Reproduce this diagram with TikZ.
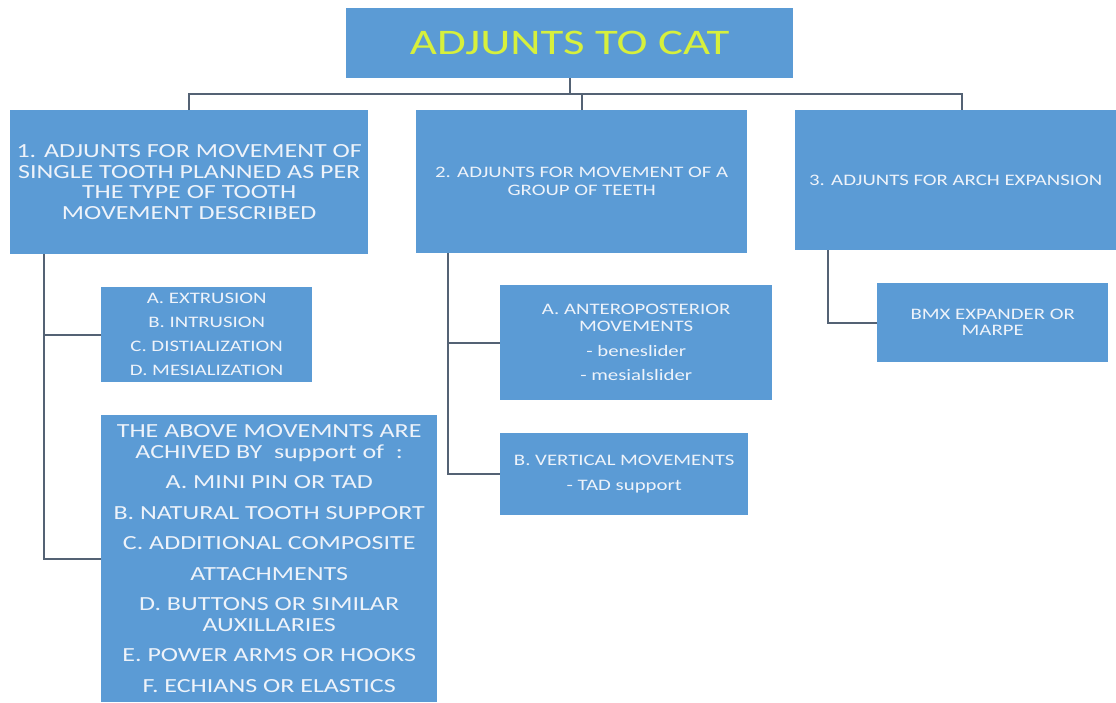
\documentclass[tikz,border=0pt]{standalone}
\usepackage{fontspec}
\setmainfont[FakeStretch=1.3]{Carlito}
\usetikzlibrary{calc}
\definecolor{boxblue}{RGB}{91,155,213}
\definecolor{titleyel}{RGB}{215,240,60}
\definecolor{txtcol}{RGB}{238,243,250}
\definecolor{linkcol}{RGB}{84,98,116}
\begin{document}
\begin{tikzpicture}[x=1pt,y=-1pt,
  blk/.style={fill=boxblue, draw=none, inner sep=0pt, text=txtcol, align=center, anchor=north west},
  link/.style={draw=linkcol, line width=1.6pt}]
\useasboundingbox (0,0) rectangle (1116,702);
\fill[white] (0,0) rectangle (1116,702);

\node[blk, minimum width=447pt, minimum height=70pt, text=titleyel,
      font=\fontsize{36}{40}\selectfont] (top) at (346,8) {ADJUNTS TO CAT};

\node[blk, minimum width=358pt, minimum height=144pt,
      font=\fontsize{20}{20.5}\selectfont] (b1) at (10,110)
  {1. ADJUNTS FOR MOVEMENT OF\\ SINGLE TOOTH PLANNED AS PER\\ THE TYPE OF TOOTH\\ MOVEMENT DESCRIBED};

\node[blk, minimum width=331pt, minimum height=143pt,
      font=\fontsize{16}{18}\selectfont] (b2) at (416,110)
  {2. ADJUNTS FOR MOVEMENT OF A\\ GROUP OF TEETH};

\node[blk, minimum width=321pt, minimum height=140pt,
      font=\fontsize{16}{18}\selectfont] (b3) at (795,110)
  {3. ADJUNTS FOR ARCH EXPANSION};

\node[blk, minimum width=211pt, minimum height=95pt,
      font=\fontsize{16}{24}\selectfont] (list) at (101,287)
  {A. EXTRUSION\\ B. INTRUSION\\ C. DISTIALIZATION\\ D. MESIALIZATION};

\node[blk, minimum width=336pt, minimum height=287pt,
      font=\fontsize{20}{20.5}\selectfont] (big) at (101,415)
  {THE ABOVE MOVEMNTS ARE\\ ACHIVED BY~ support of~ :\\[10pt]
   A. MINI PIN OR TAD\\[10pt] B. NATURAL TOOTH SUPPORT\\[10pt]
   C. ADDITIONAL COMPOSITE\\[10pt] ATTACHMENTS\\[10pt]
   D. BUTTONS OR SIMILAR\\ AUXILLARIES\\[10pt]
   E. POWER ARMS OR HOOKS\\[10pt] F. ECHIANS OR ELASTICS};

\node[blk, minimum width=272pt, minimum height=115pt,
      font=\fontsize{16}{17}\selectfont] (ant) at (500,285)
  {A. ANTEROPOSTERIOR\\ MOVEMENTS\\[7.5pt] - beneslider\\[7.5pt] - mesialslider};

\node[blk, minimum width=248pt, minimum height=82pt,
      font=\fontsize{16}{25}\selectfont] (vert) at (500,433)
  {B. VERTICAL MOVEMENTS\\ - TAD support};

\node[blk, minimum width=231pt, minimum height=79pt,
      font=\fontsize{16}{16}\selectfont] (bmx) at (877,283)
  {BMX EXPANDER OR\\ MARPE};

% top-level bus
\coordinate (busL) at ($(b1.north)+(0,-16)$);
\coordinate (busR) at ($(b3.north west)+(167,-16)$);
\draw[link] (top.south) -- (top.south |- busL);
\draw[link] (b1.north) |- (busR) -- (b3.north -| busR);
\draw[link] (b2.north) -- (b2.north |- busL);

% left branch
\coordinate (lv) at ($(b1.south west)+(34,0)$);
\draw[link] (lv) |- (big.west);
\draw[link] (lv |- list.west) -- (list.west);

% middle branch
\coordinate (mv) at ($(b2.south west)+(32,0)$);
\draw[link] (mv) |- (vert.west);
\draw[link] (mv |- ant.west) -- (ant.west);

% right branch
\coordinate (rv) at ($(b3.south west)+(33,0)$);
\draw[link] (rv) |- (bmx.west);
\end{tikzpicture}
\end{document}
